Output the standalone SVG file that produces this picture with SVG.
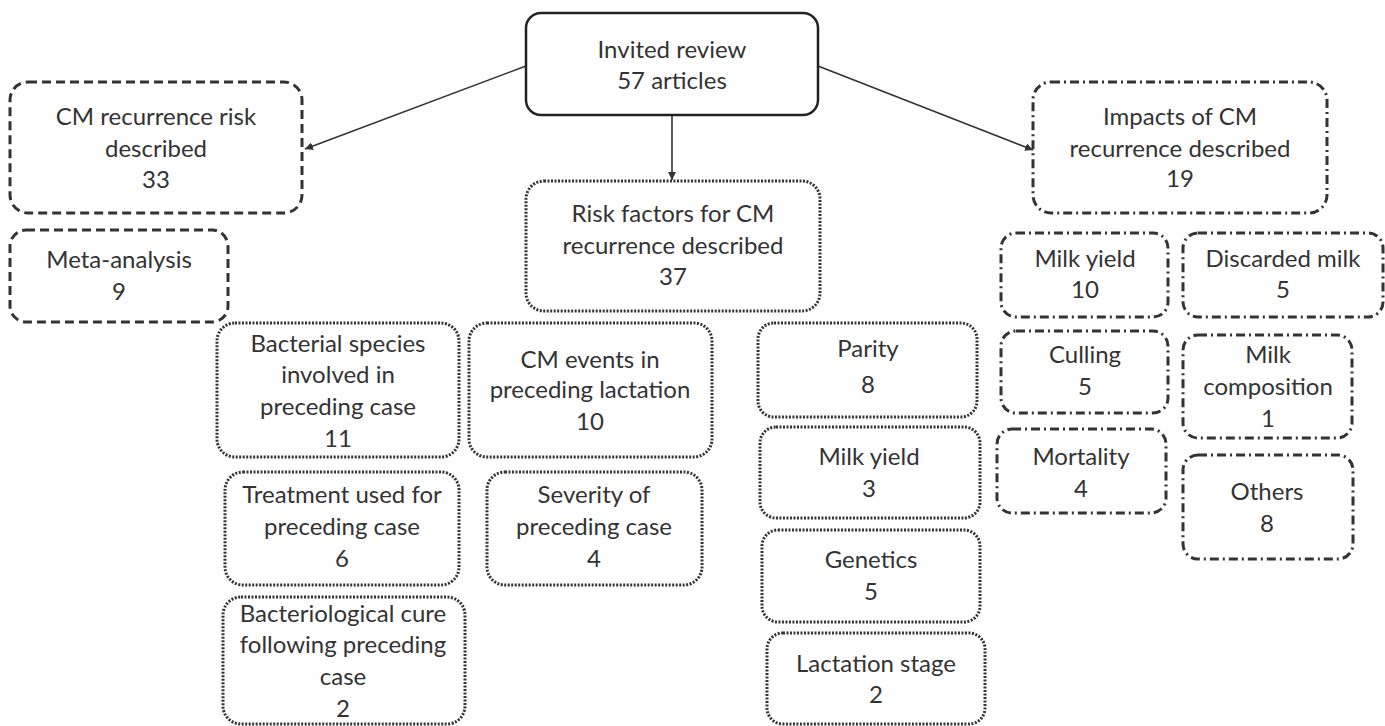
<svg xmlns="http://www.w3.org/2000/svg" width="1385" height="726" viewBox="0 0 1385 726">
<defs>
<style>
.t{font-family:Lato,"Open Sans","Liberation Sans",sans-serif;font-size:24px;fill:#333;text-anchor:middle}
.solid{fill:#fff;stroke:#222;stroke-width:2.5}
.dash{fill:#fff;stroke:#333;stroke-width:3;stroke-dasharray:9 5}
.dot{fill:#fff;stroke:#333;stroke-width:3;stroke-dasharray:2 1.5}
.dd{fill:#fff;stroke:#333;stroke-width:3;stroke-dasharray:9 4 2 4}
.c{stroke:#333;stroke-width:1.6;fill:none}
</style>
<marker id="ah" viewBox="0 0 10 10" refX="10" refY="5" markerWidth="8" markerHeight="8" markerUnits="userSpaceOnUse" orient="auto">
<path d="M0,0 L10,5 L0,10 z" fill="#333"/>
</marker>
</defs>
<rect width="1385" height="726" fill="#fff"/>
<g id="connectors">
<line class="c" x1="526" y1="66" x2="305" y2="149" marker-end="url(#ah)"/>
<line class="c" x1="672" y1="116" x2="672" y2="180" marker-end="url(#ah)"/>
<line class="c" x1="818" y1="66" x2="1033" y2="150" marker-end="url(#ah)"/>
</g>
<g id="invited"><rect class="solid" x="526" y="13" width="292" height="102" rx="15"/><text class="t" x="672" y="58">Invited review</text><text class="t" x="672" y="89">57 articles</text></g>
<g id="recurrence-risk"><rect class="dash" x="10" y="82" width="292" height="131" rx="18"/><text class="t" x="156" y="125">CM recurrence risk</text><text class="t" x="156" y="157">described</text><text class="t" x="156" y="188">33</text></g>
<g id="meta"><rect class="dash" x="10" y="230" width="218" height="92" rx="16"/><text class="t" x="119" y="268">Meta-analysis</text><text class="t" x="119" y="300">9</text></g>
<g id="risk-factors"><rect class="dot" x="526" y="181" width="294" height="130" rx="18"/><text class="t" x="673" y="222">Risk factors for CM</text><text class="t" x="673" y="254">recurrence described</text><text class="t" x="673" y="285">37</text></g>
<g id="impacts"><rect class="dd" x="1033" y="82" width="294" height="131" rx="18"/><text class="t" x="1180" y="125">Impacts of CM</text><text class="t" x="1180" y="157">recurrence described</text><text class="t" x="1180" y="187">19</text></g>
<g id="bacterial-species"><rect class="dot" x="217" y="323" width="242" height="134" rx="18"/><text class="t" x="338" y="352">Bacterial species</text><text class="t" x="338" y="383">involved in</text><text class="t" x="338" y="415">preceding case</text><text class="t" x="338" y="447">11</text></g>
<g id="cm-events"><rect class="dot" x="469" y="323" width="243" height="134" rx="18"/><text class="t" x="590" y="368">CM events in</text><text class="t" x="590" y="398">preceding lactation</text><text class="t" x="590" y="430">10</text></g>
<g id="treatment"><rect class="dot" x="225" y="472" width="234" height="113" rx="18"/><text class="t" x="342" y="503">Treatment used for</text><text class="t" x="342" y="535">preceding case</text><text class="t" x="342" y="567">6</text></g>
<g id="severity"><rect class="dot" x="487" y="472" width="215" height="113" rx="18"/><text class="t" x="594" y="503">Severity of</text><text class="t" x="594" y="535">preceding case</text><text class="t" x="594" y="567">4</text></g>
<g id="bacteriological-cure"><rect class="dot" x="223" y="597" width="242" height="127" rx="18"/><text class="t" x="343" y="622">Bacteriological cure</text><text class="t" x="343" y="653">following preceding</text><text class="t" x="343" y="685">case</text><text class="t" x="343" y="717">2</text></g>
<g id="parity"><rect class="dot" x="758" y="323" width="219" height="94" rx="16"/><text class="t" x="868" y="357">Parity</text><text class="t" x="868" y="393">8</text></g>
<g id="milk-yield-rf"><rect class="dot" x="760" y="427" width="220" height="91" rx="16"/><text class="t" x="869" y="465">Milk yield</text><text class="t" x="869" y="497">3</text></g>
<g id="genetics"><rect class="dot" x="762" y="530" width="218" height="92" rx="16"/><text class="t" x="871" y="568">Genetics</text><text class="t" x="871" y="600">5</text></g>
<g id="lactation-stage"><rect class="dot" x="767" y="633" width="218" height="91" rx="16"/><text class="t" x="876" y="672">Lactation stage</text><text class="t" x="876" y="703">2</text></g>
<g id="milk-yield-imp"><rect class="dd" x="1001" y="233" width="167" height="84" rx="15"/><text class="t" x="1085" y="267">Milk yield</text><text class="t" x="1085" y="298">10</text></g>
<g id="discarded-milk"><rect class="dd" x="1183" y="233" width="200" height="84" rx="15"/><text class="t" x="1283" y="267">Discarded milk</text><text class="t" x="1283" y="298">5</text></g>
<g id="culling"><rect class="dd" x="1001" y="331" width="167" height="82" rx="15"/><text class="t" x="1085" y="363">Culling</text><text class="t" x="1085" y="395">5</text></g>
<g id="milk-composition"><rect class="dd" x="1183" y="335" width="169" height="103" rx="15"/><text class="t" x="1268" y="363">Milk</text><text class="t" x="1268" y="395">composition</text><text class="t" x="1268" y="427">1</text></g>
<g id="mortality"><rect class="dd" x="997" y="429" width="169" height="84" rx="15"/><text class="t" x="1081" y="465">Mortality</text><text class="t" x="1081" y="497">4</text></g>
<g id="others"><rect class="dd" x="1183" y="455" width="170" height="104" rx="15"/><text class="t" x="1267" y="500">Others</text><text class="t" x="1267" y="532">8</text></g>
</svg>
